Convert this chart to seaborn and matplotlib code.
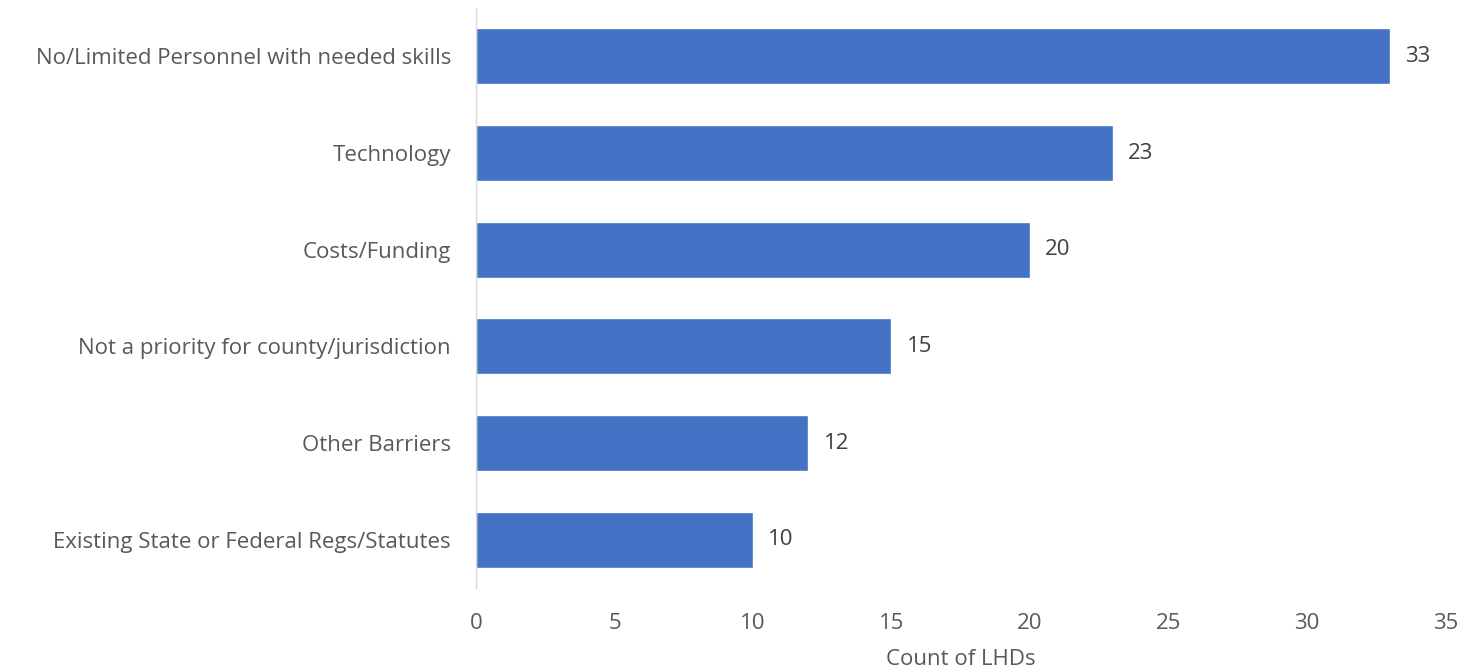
"""Horizontal bar chart of barriers reported by LHDs."""

import pandas as pd
import seaborn as sns
import matplotlib.pyplot as plt

barriers = [
    "No/Limited Personnel with needed skills",
    "Technology",
    "Costs/Funding",
    "Not a priority for county/jurisdiction",
    "Other Barriers",
    "Existing State or Federal Regs/Statutes",
]
counts = [33, 23, 20, 15, 12, 10]
x_ticks = [0, 5, 10, 15, 20, 25, 30, 35]

df = pd.DataFrame({"Barrier": barriers, "Count": counts})

sns.set_theme(style="white")
plt.rcParams["font.family"] = ["Open Sans", "DejaVu Sans"]

FS = 16

fig = plt.figure(figsize=(14.6, 6.69), dpi=100)
ax = fig.add_axes([0.326, 0.121, 0.664, 0.867])

sns.barplot(
    data=df, x="Count", y="Barrier", orient="h",
    color="#4472C4", saturation=1, width=0.58, ax=ax,
)

# value labels at bar ends
ax.bar_label(ax.containers[0], padding=11, fontsize=FS, color="#404040")

ax.set_xlim(0, 35)
ax.set_xticks(x_ticks)
ax.set_xlabel("Count of LHDs", fontsize=FS, color="#595959", labelpad=11)
ax.set_ylabel("")
ax.tick_params(axis="x", labelsize=FS, colors="#595959", length=0, pad=18)
ax.tick_params(axis="y", labelsize=FS, colors="#595959", length=0, pad=18)

for side in ["top", "right", "bottom"]:
    ax.spines[side].set_visible(False)
ax.spines["left"].set_color("#D9D9D9")
ax.spines["left"].set_linewidth(1)

fig.savefig("out.png", dpi=100)
plt.close(fig)
